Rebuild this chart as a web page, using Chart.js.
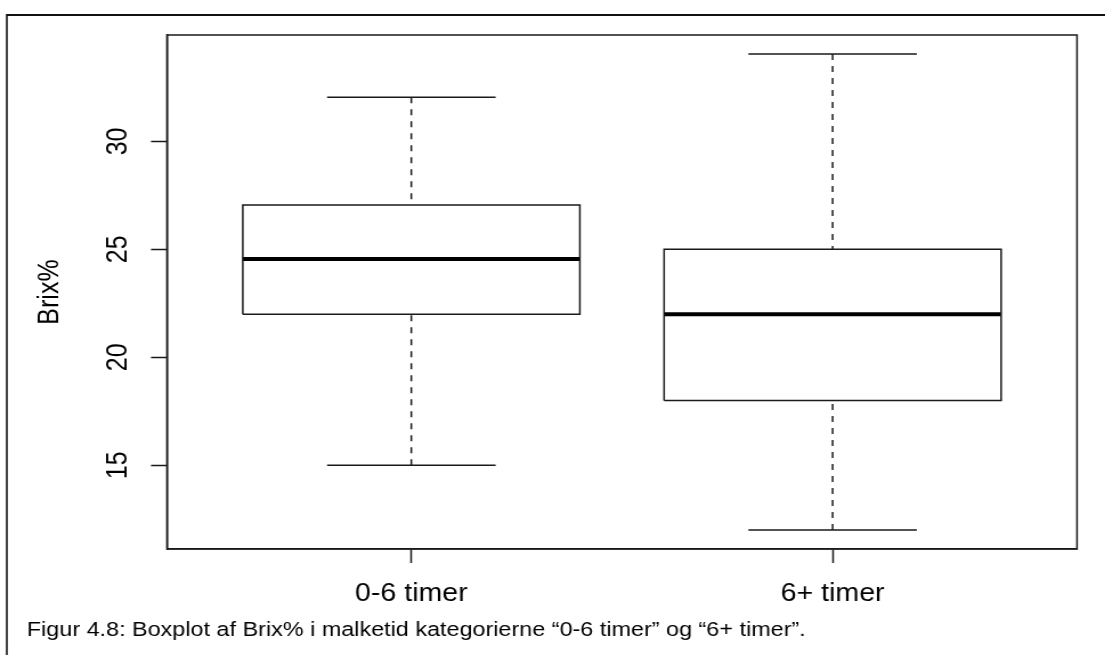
<!DOCTYPE html>
<html>
<head>
<meta charset="utf-8">
<script src="https://cdn.jsdelivr.net/npm/chart.js@4.4.1/dist/chart.umd.min.js"></script>
<style>
  html, body { margin: 0; padding: 0; background: #fff; overflow: hidden; }
  /* the drawing surface is laid out narrower and shown widened to the page */
  #c { display: block; transform: scaleX(1.1404); transform-origin: 0 0; }
</style>
</head>
<body>
<canvas id="c" width="969" height="655"></canvas>
<script>
// Brix% by milking-time category: five-number summaries per group
const categories  = ['0-6 timer', '6+ timer'];
const whiskerLow  = [15, 12];
const quartile1   = [22, 18];
const medians     = [24.55, 22];
const quartile3   = [27.05, 25];
const whiskerHigh = [32.05, 34.05];
const yTicks      = [15, 20, 25, 30];
const yLimits     = [11.12, 34.93];
const xLimits     = [0.42, 2.58];
const yTitle      = 'Brix%';
const caption     = 'Figur 4.8: Boxplot af Brix% i malketid kategorierne \u201c0-6 timer\u201d og \u201c6+ timer\u201d.';

const BOX_HALF = 0.4;   // half box width in category units
const CAP_HALF = 0.2;   // half staple width
const INK = '#1a1a1a';
const FONT = "'Liberation Sans', Arial, Helvetica, sans-serif";

// Build the line paths of each box from the summary arrays (null y = pen up)
const outlines = [], medianSegs = [], whiskers = [];
categories.forEach((cat, i) => {
  const x = i + 1;
  outlines.push(
    {x: x - BOX_HALF, y: quartile1[i]}, {x: x + BOX_HALF, y: quartile1[i]},
    {x: x + BOX_HALF, y: quartile3[i]}, {x: x - BOX_HALF, y: quartile3[i]},
    {x: x - BOX_HALF, y: quartile1[i]}, {x: x, y: null},
    {x: x - CAP_HALF, y: whiskerHigh[i]}, {x: x + CAP_HALF, y: whiskerHigh[i]}, {x: x, y: null},
    {x: x - CAP_HALF, y: whiskerLow[i]},  {x: x + CAP_HALF, y: whiskerLow[i]},  {x: x, y: null}
  );
  medianSegs.push({x: x - BOX_HALF, y: medians[i]}, {x: x + BOX_HALF, y: medians[i]}, {x: x, y: null});
  whiskers.push(
    {x: x, y: whiskerHigh[i]}, {x: x, y: quartile3[i]}, {x: x, y: null},
    {x: x, y: whiskerLow[i]},  {x: x, y: quartile1[i]}, {x: x, y: null}
  );
});

const lineStyle = {
  pointRadius: 0, pointHoverRadius: 0, tension: 0, fill: false,
  spanGaps: false, borderColor: INK, borderCapStyle: 'butt', borderJoinStyle: 'miter'
};

// plot frame plus the page border along the top and left edges
const framePlugin = {
  id: 'frame',
  afterDraw(chart) {
    const {ctx, chartArea: a, width} = chart;
    ctx.save();
    ctx.strokeStyle = INK;
    ctx.lineWidth = 1.5;
    ctx.strokeRect(a.left, a.top, a.right - a.left, a.bottom - a.top);
    ctx.strokeStyle = '#111';
    ctx.lineWidth = 2;
    ctx.beginPath(); ctx.moveTo(6, 15); ctx.lineTo(width, 15); ctx.stroke();
    ctx.lineWidth = 1.6;
    ctx.beginPath(); ctx.moveTo(6, 14); ctx.lineTo(6, chart.height); ctx.stroke();
    ctx.restore();
  }
};

const axisGrid = { drawOnChartArea: false, drawTicks: true, tickLength: 14, tickWidth: 1.5, tickColor: INK };
const axisBorder = { display: true, color: INK, width: 1.5 };

new Chart(document.getElementById('c'), {
  type: 'line',
  data: {
    datasets: [
      Object.assign({ label: 'whiskers', data: whiskers, borderWidth: 1.5, borderDash: [6, 6] }, lineStyle),
      Object.assign({ label: 'boxes', data: outlines, borderWidth: 1.5 }, lineStyle),
      Object.assign({ label: 'median', data: medianSegs, borderWidth: 4 },
                    Object.assign({}, lineStyle, { borderColor: '#000' }))
    ]
  },
  options: {
    responsive: false,
    animation: false,
    devicePixelRatio: 1,
    events: [],
    layout: { padding: { left: 23.5, top: 35, right: 24.6, bottom: 12.5 } },
    font: { family: FONT },
    plugins: {
      legend: { display: false },
      tooltip: { enabled: false },
      title: {
        display: true, text: caption, position: 'bottom', align: 'start',
        color: '#000', font: { family: FONT, size: 20.5, weight: 'normal', lineHeight: 1.2 },
        padding: 0
      }
    },
    scales: {
      x: {
        type: 'linear', min: xLimits[0], max: xLimits[1],
        afterBuildTicks: s => { s.ticks = categories.map((c, i) => ({ value: i + 1 })); },
        afterFit: s => { s.height = 68.9; },
        ticks: {
          callback: v => categories[v - 1], autoSkip: false, maxRotation: 0,
          padding: 16.3, color: '#000', font: { family: FONT, size: 25 }
        },
        grid: axisGrid, border: axisBorder
      },
      y: {
        type: 'linear', min: yLimits[0], max: yLimits[1],
        afterBuildTicks: s => { s.ticks = yTicks.map(v => ({ value: v })); },
        afterFit: s => { s.width = 122.9; },
        ticks: {
          minRotation: 90, maxRotation: 90, crossAlign: 'center',
          padding: 14.7, color: '#000', font: { family: FONT, size: 25 }
        },
        title: {
          display: true, text: yTitle, color: '#000',
          font: { family: FONT, size: 25 }, padding: { top: 5.2, bottom: 0 }
        },
        grid: axisGrid, border: axisBorder
      }
    }
  },
  plugins: [framePlugin]
});
</script>
</body>
</html>
